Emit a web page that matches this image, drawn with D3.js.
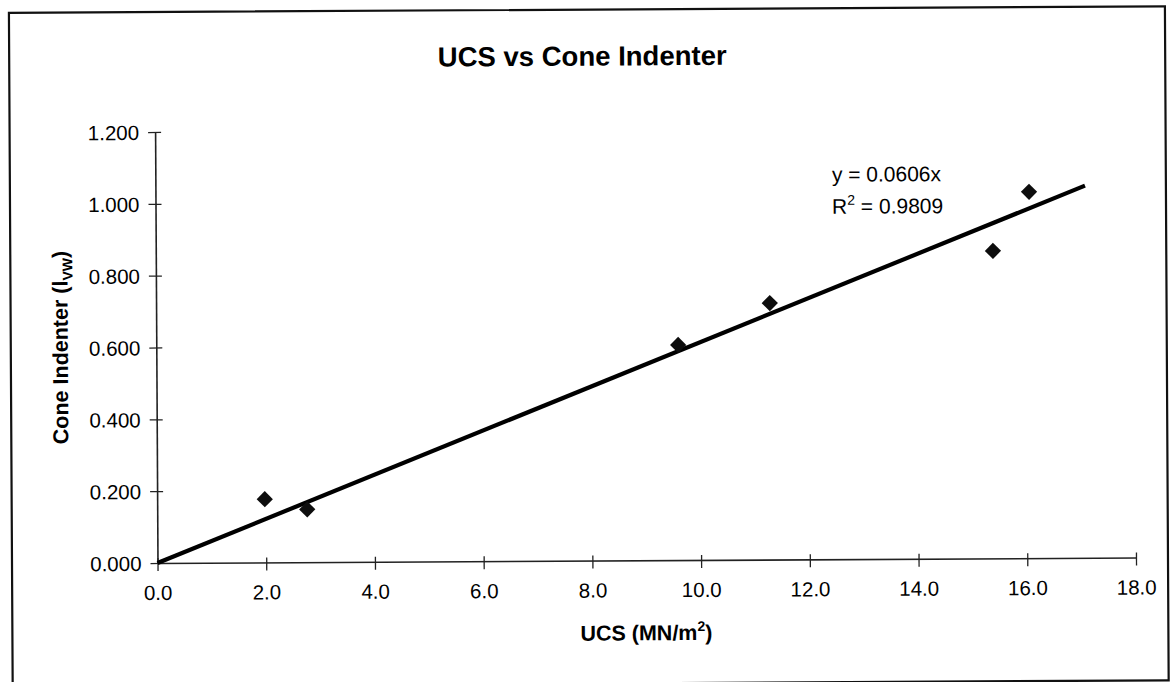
<!DOCTYPE html>
<html>
<head>
<meta charset="utf-8">
<script src="https://cdn.jsdelivr.net/npm/d3@7"></script>
<style>
  html, body { margin: 0; padding: 0; background: #fff; }
  svg { display: block; font-family: "Liberation Sans", Arial, sans-serif; }
</style>
</head>
<body>
<svg id="chart" width="1170" height="682"></svg>
<script>
// Measured samples: UCS (MN/m²) against cone indenter number
const ucs = [1.98, 2.76, 9.60, 11.29, 15.40, 16.07];
const coneIndenter = [0.176, 0.147, 0.599, 0.714, 0.856, 1.020];

// Linear trend forced through the origin
const trendSlope = 0.0606;
const trendR2 = 0.9809;
const trendExtent = [0, 17.1];

const xTicks = [0, 2, 4, 6, 8, 10, 12, 14, 16, 18];
const yTicks = [0, 0.2, 0.4, 0.6, 0.8, 1.0, 1.2];

const chartTitle = "UCS vs Cone Indenter";

const svg = d3.select("#chart");
const ox = 157.5, oy = 563;          // plot origin
const plotW = 978.5, plotH = 431;

// the whole sheet sits a touch off-square
const sheet = svg.append("g").attr("transform", `rotate(-0.32, ${ox}, ${oy})`);

// outer chart border
sheet.append("rect")
  .attr("x", 12).attr("y", 12)
  .attr("width", 1156).attr("height", 674)
  .attr("fill", "none").attr("stroke", "#111").attr("stroke-width", 2.2);

sheet.append("text")
  .attr("x", 585).attr("y", 68)
  .attr("text-anchor", "middle")
  .attr("font-size", 27.5).attr("font-weight", "bold").attr("fill", "#000")
  .text(chartTitle);

const plot = sheet.append("g").attr("transform", `translate(${ox},${oy})`);

const x = d3.scaleLinear().domain([0, 18]).range([0, plotW]);
const y = d3.scaleLinear().domain([0, 1.2]).range([0, -plotH]);

// axes with ticks crossing the axis line
const xAxis = plot.append("g").call(
  d3.axisBottom(x).tickValues(xTicks).tickFormat(d3.format(".1f"))
    .tickSizeInner(8).tickSizeOuter(0).tickPadding(0));
xAxis.selectAll(".tick line").attr("y1", -5);
xAxis.selectAll(".tick text").attr("y", 37).attr("dy", 0);

const yAxis = plot.append("g").call(
  d3.axisLeft(y).tickValues(yTicks).tickFormat(d3.format(".3f"))
    .tickSizeInner(7).tickSizeOuter(0).tickPadding(9));
yAxis.selectAll(".tick line").attr("x1", 6);

[xAxis, yAxis].forEach(a => {
  a.select(".domain").attr("stroke", "#222").attr("stroke-width", 1.6);
  a.selectAll(".tick line").attr("stroke", "#222").attr("stroke-width", 1.3);
  a.selectAll(".tick text").attr("font-size", 20.5).attr("fill", "#000")
    .attr("font-family", "'Liberation Sans', Arial, sans-serif");
});
yAxis.selectAll(".tick text").attr("dy", "0.36em");

// trend line
plot.append("path")
  .datum(trendExtent)
  .attr("d", d3.line().x(d => x(d)).y(d => y(trendSlope * d)))
  .attr("stroke", "#000").attr("stroke-width", 4.2).attr("fill", "none");

// diamond markers
const diamond = d3.symbol(d3.symbolSquare, 132);
plot.selectAll("path.pt")
  .data(ucs.map((u, i) => [u, coneIndenter[i]]))
  .join("path")
  .attr("class", "pt")
  .attr("d", diamond)
  .attr("transform", d => `translate(${x(d[0])},${y(d[1])}) rotate(45)`)
  .attr("fill", "#0d0d0d");

// equation annotation
const eq = sheet.append("g").attr("font-size", 21).attr("fill", "#000");
eq.append("text").attr("x", 834).attr("y", 185.5)
  .text(`y = ${trendSlope}x`);
const r2 = eq.append("text").attr("x", 834).attr("y", 217.5);
r2.append("tspan").text("R");
r2.append("tspan").attr("font-size", 14).attr("dy", -9).text("2");
r2.append("tspan").attr("dy", 9).text(` = ${trendR2}`);

// x-axis title
const xl = sheet.append("text")
  .attr("x", 646).attr("y", 643)
  .attr("text-anchor", "middle")
  .attr("font-size", 21.5).attr("font-weight", "bold").attr("fill", "#000");
xl.append("tspan").text("UCS (MN/m");
xl.append("tspan").attr("font-size", 14).attr("dy", -9).text("2");
xl.append("tspan").attr("dy", 9).text(")");

// y-axis title
const yl = sheet.append("text")
  .attr("transform", "translate(69,347) rotate(-90)")
  .attr("text-anchor", "middle")
  .attr("font-size", 21.5).attr("font-weight", "bold").attr("fill", "#000");
yl.append("tspan").text("Cone Indenter (l");
yl.append("tspan").attr("font-size", 14).attr("dy", 5).text("VW");
yl.append("tspan").attr("dy", -5).text(")");
</script>
</body>
</html>
